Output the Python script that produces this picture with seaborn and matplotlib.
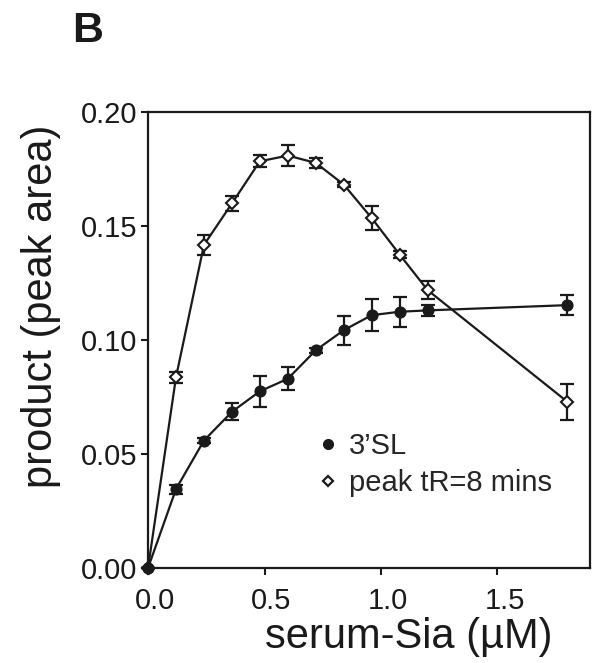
import matplotlib
matplotlib.use("Agg")
import matplotlib.pyplot as plt
import matplotlib.transforms as mtransforms
import seaborn as sns
import pandas as pd
from matplotlib.lines import Line2D

# serum-Sia concentration (uM)
conc = [0.0, 0.12, 0.24, 0.36, 0.48, 0.60, 0.72, 0.84, 0.96, 1.08, 1.20, 1.80]

# 3'SL product (peak area) and error
sl_mean = [0.0, 0.0346, 0.0559, 0.0685, 0.0775, 0.0830, 0.0955, 0.1043, 0.1109, 0.1124, 0.1130, 0.1153]
sl_err = [0.0, 0.0020, 0.0010, 0.0037, 0.0068, 0.0051, 0.0010, 0.0064, 0.0070, 0.0065, 0.0023, 0.0043]

# peak tR=8 mins product (peak area) and error
pk_mean = [0.0, 0.0836, 0.1417, 0.1599, 0.1784, 0.1809, 0.1777, 0.1682, 0.1535, 0.1375, 0.1219, 0.0729]
pk_err = [0.0, 0.0023, 0.0045, 0.0033, 0.0026, 0.0047, 0.0022, 0.0010, 0.0054, 0.0015, 0.0040, 0.0079]

labels = ["3\u2019SL", "peak tR=8 mins"]

sns.set_style("ticks")
plt.rcParams["font.family"] = ["Liberation Sans", "DejaVu Sans"]

df_sl = pd.DataFrame({"conc": conc, "product": sl_mean})
df_pk = pd.DataFrame({"conc": conc, "product": pk_mean})

fig = plt.figure(figsize=(6, 6.63), dpi=100)
ax = fig.add_axes([0.2467, 0.1433, 0.7366, 0.6877])

# error bars first, lines and markers on top
ax.errorbar(conc, pk_mean, yerr=pk_err, fmt="none", ecolor="#1a1a1a",
            elinewidth=1.6, capsize=5, capthick=1.6, clip_on=False, zorder=2)
ax.errorbar(conc, sl_mean, yerr=sl_err, fmt="none", ecolor="#1a1a1a",
            elinewidth=1.6, capsize=5, capthick=1.6, clip_on=False, zorder=2)

sns.lineplot(data=df_pk, x="conc", y="product", ax=ax, color="#1a1a1a",
             linewidth=1.6, marker="D", markersize=6.5, markerfacecolor="white",
             markeredgecolor="#1a1a1a", markeredgewidth=1.5, clip_on=False, zorder=3)
sns.lineplot(data=df_sl, x="conc", y="product", ax=ax, color="#1a1a1a",
             linewidth=1.6, marker="o", markersize=8, markerfacecolor="#1a1a1a",
             markeredgecolor="#1a1a1a", clip_on=False, zorder=4)

# origin point looks filled
ax.plot([0], [0], marker="D", markersize=6.5, color="#1a1a1a", clip_on=False, zorder=5)

ax.set_xlim(0, 1.897)
ax.set_ylim(0, 0.20)
ax.set_xticks([0.0, 0.5, 1.0, 1.5])
ax.set_xticklabels(["0.0", "0.5", "1.0", "1.5"])
ax.set_yticks([0.0, 0.05, 0.10, 0.15, 0.20])
ax.set_yticklabels(["0.00", "0.05", "0.10", "0.15", "0.20"])
ax.tick_params(axis="both", direction="out", length=5, width=1.5,
               labelsize=21, colors="#1a1a1a", pad=3)
ax.tick_params(axis="x", pad=9)
# x tick labels sit a little right of their ticks in the original
shift = mtransforms.ScaledTranslation(0.07, 0, fig.dpi_scale_trans)
for lbl in ax.get_xticklabels():
    lbl.set_transform(lbl.get_transform() + shift)
for s in ax.spines.values():
    s.set_linewidth(1.6)
    s.set_color("#1a1a1a")
    s.set_visible(True)

ax.set_xlabel("serum-Sia (\u00b5M)", fontsize=30, color="#1a1a1a")
ax.set_ylabel("product (peak area)", fontsize=30, color="#1a1a1a")
ax.xaxis.set_label_coords(0.59, -0.108)
ax.yaxis.set_label_coords(-0.198, 0.575)

handles = [
    Line2D([], [], linestyle="none", marker="o", markersize=7,
           markerfacecolor="#1a1a1a", markeredgecolor="#1a1a1a"),
    Line2D([], [], linestyle="none", marker="D", markersize=5,
           markerfacecolor="white", markeredgecolor="#1a1a1a", markeredgewidth=1.6),
]
ax.legend(handles, labels, loc="upper left", bbox_to_anchor=(0.355, 0.33),
          frameon=False, fontsize=21, handlelength=0.6, handletextpad=0.4,
          labelspacing=0.3, borderpad=0)

fig.text(0.12, 0.937, "B", fontsize=31, fontweight="bold", color="#1a1a1a")

fig.savefig("out.png", dpi=100)
